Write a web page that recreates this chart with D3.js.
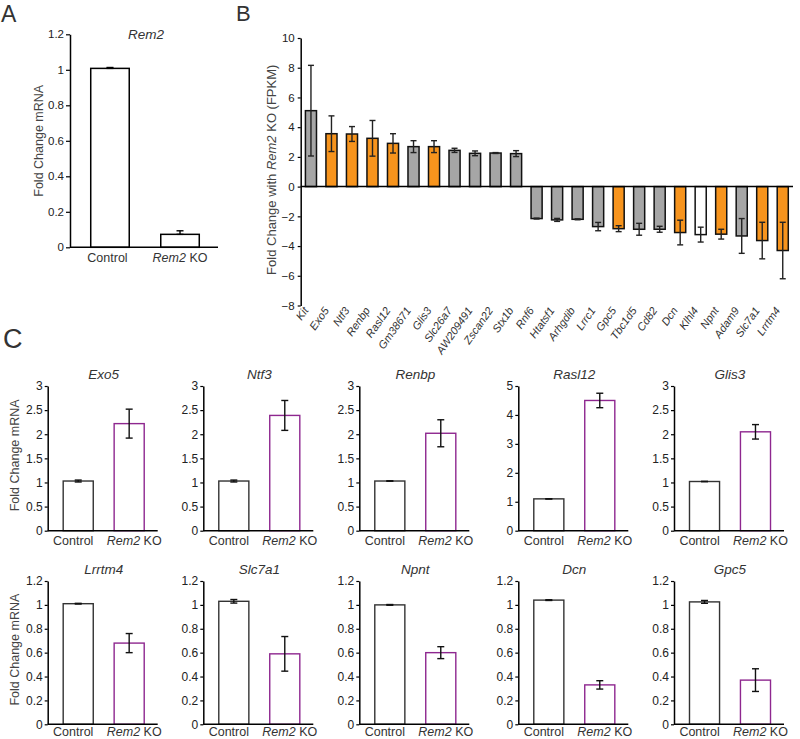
<!DOCTYPE html>
<html><head><meta charset="utf-8">
<script src="https://cdn.jsdelivr.net/npm/d3@7"></script>
<style>
body{margin:0;background:#fff;}
svg text{font-family:"Liberation Sans", Arial, sans-serif;}
</style></head><body>
<svg id="fig" width="800" height="739"></svg>
<script>
// ---------- DATA ----------
// Panel A
const groupsA = ["Control", "Rem2 KO"];
const valuesA = [1.008, 0.073];
const errorsA = [0.005, 0.02];
const ticksA = [0, 0.2, 0.4, 0.6, 0.8, 1, 1.2];

// Panel B
const genesB = ["Kit","Exo5","Ntf3","Renbp","Rasl12","Gm38671","Glis3","Slc26a7","AW209491","Zscan22","Stx1b",
  "Rnf6","Htatsf1","Arhgdib","Lrrc1","Gpc5","Tbc1d5","Cd82","Dcn","Klhl4","Npnt","Adam9","Slc7a1","Lrrtm4"];
const foldB = [5.11, 3.56, 3.54, 3.25, 2.91, 2.69, 2.69, 2.44, 2.24, 2.26, 2.22,
  -2.15, -2.24, -2.2, -2.69, -2.83, -2.87, -2.87, -3.09, -3.23, -3.2, -3.32, -3.63, -4.3];
const errB = [3.05, 1.2, 0.5, 1.2, 0.65, 0.4, 0.4, 0.14, 0.16, 0.03, 0.2,
  0.03, 0.1, 0.03, 0.28, 0.2, 0.4, 0.2, 0.83, 0.5, 0.33, 1.17, 1.23, 1.9];
const classB = ["gray","orange","orange","orange","orange","gray","orange","gray","gray","gray","gray",
  "gray","gray","gray","gray","orange","gray","gray","orange","white","orange","gray","orange","orange"];
const ticksB = [-8, -6, -4, -2, 0, 2, 4, 6, 8, 10];

// Panel C
const genesC = ["Exo5","Ntf3","Renbp","Rasl12","Glis3","Lrrtm4","Slc7a1","Npnt","Dcn","Gpc5"];
const controlC = [1.03, 1.03, 1.03, 1.1, 1.02, 1.01, 1.03, 1.0, 1.04, 1.025];
const controlErrC = [0.02, 0.02, 0.004, 0.005, 0.004, 0.003, 0.015, 0.003, 0.003, 0.012];
const koC = [2.22, 2.39, 2.02, 4.5, 2.05, 0.68, 0.59, 0.60, 0.33, 0.37];
const koErrC = [0.30, 0.31, 0.28, 0.25, 0.15, 0.08, 0.145, 0.05, 0.035, 0.095];
const ticksC3 = [0, 0.5, 1, 1.5, 2, 2.5, 3];
const ticksC5 = [0, 1, 2, 3, 4, 5];
const ticksC12 = [0, 0.2, 0.4, 0.6, 0.8, 1, 1.2];
const groupsC = ["Control", "Rem2 KO"];

// ---------- STYLE ----------
const colorMap = {gray: "#a6a6a6", orange: "#f7941d", white: "#ffffff"};
const tickColor = "#222";
const labelColor = "#444";
const svg = d3.select("#fig");

function styleAxis(g, fs) {
  g.selectAll(".domain").attr("stroke", "#000").attr("stroke-width", 1.5);
  g.selectAll(".tick line").attr("stroke", "#000").attr("stroke-width", 1.2);
  g.selectAll(".tick text").attr("fill", tickColor).style("font-size", fs + "px").attr("font-family", null);
}

function groupLabel(sel) {
  sel.each(function(d) {
    const t = d3.select(this);
    t.text(null);
    if (d === "Rem2 KO") {
      t.append("tspan").attr("font-style", "italic").text("Rem2");
      t.append("tspan").text(" KO");
    } else {
      t.text(d);
    }
  });
}

function errorBar(g, cx, yTop, yBot, cap, color) {
  g.append("line").attr("x1", cx).attr("x2", cx).attr("y1", yTop).attr("y2", yBot)
    .attr("stroke", color).attr("stroke-width", 1.4);
  [yTop, yBot].forEach(yy => g.append("line").attr("x1", cx - cap/2).attr("x2", cx + cap/2)
    .attr("y1", yy).attr("y2", yy).attr("stroke", color).attr("stroke-width", 1.4));
}

// panel letters
svg.append("text").attr("x", 1).attr("y", 22).text("A").style("font-size", "23px").attr("fill", "#333");
svg.append("text").attr("x", 236).attr("y", 21).text("B").style("font-size", "22px").attr("fill", "#333");
svg.append("text").attr("x", 3).attr("y", 348).text("C").style("font-size", "27px").attr("fill", "#333");

// ---------- PANEL A ----------
(function() {
  const ax = 70, yTop = 34.3, yBot = 247.3;
  const y = d3.scaleLinear().domain([0, 1.2]).range([yBot, yTop]);
  const x = d3.scaleBand().domain(groupsA).range([ax, ax + 150]).paddingInner(0.45).paddingOuter(0.296);
  const g = svg.append("g");
  groupsA.forEach((k, i) => {
    g.append("rect").attr("x", x(k)).attr("width", x.bandwidth())
      .attr("y", y(valuesA[i])).attr("height", y(0) - y(valuesA[i]))
      .attr("fill", "#fff").attr("stroke", "#000").attr("stroke-width", 1.5);
    errorBar(g, x(k) + x.bandwidth()/2, y(valuesA[i] + errorsA[i]), y(valuesA[i]), 7, "#000");
  });
  const ya = g.append("g").attr("transform", `translate(${ax},0)`)
    .call(d3.axisLeft(y).tickValues(ticksA).tickSize(4).tickPadding(2).tickSizeOuter(0).tickFormat(d => String(d)));
  styleAxis(ya, 11.5);
  const xa = g.append("g").attr("transform", `translate(0,${yBot})`)
    .call(d3.axisBottom(x).tickSize(0).tickPadding(6));
  xa.select(".domain").attr("d", `M${ax},0H${ax + 148}`);
  styleAxis(xa, 12.5);
  xa.selectAll(".tick text").call(groupLabel).attr("fill", "#333")
    .attr("dx", d => d === "Control" ? -2.5 : 0);
  g.append("text").attr("x", 146).attr("y", 39).attr("text-anchor", "middle")
    .attr("font-style", "italic").style("font-size", "13.5px").attr("fill", "#333").text("Rem2");
  g.append("text").attr("transform", `translate(43,${(yTop + yBot)/2}) rotate(-90)`)
    .attr("text-anchor", "middle").style("font-size", "12.5px").attr("fill", labelColor).text("Fold Change mRNA");
})();

// ---------- PANEL B ----------
(function() {
  const ax = 300.7, right = 793, yTop = 38, yBot = 305.5;
  const y = d3.scaleLinear().domain([-8, 10]).range([yBot, yTop]);
  const x = d3.scaleBand().domain(genesB).range([ax, right]).paddingInner(0.46).paddingOuter(0.23);
  const g = svg.append("g");
  genesB.forEach((k, i) => {
    const v = foldB[i];
    g.append("rect").attr("x", x(k)).attr("width", x.bandwidth())
      .attr("y", Math.min(y(v), y(0))).attr("height", Math.abs(y(v) - y(0)))
      .attr("fill", colorMap[classB[i]]).attr("stroke", "#111").attr("stroke-width", 1.5);
  });
  genesB.forEach((k, i) => {
    const v = foldB[i];
    errorBar(g, x(k) + x.bandwidth()/2, y(v + errB[i]), y(v - errB[i]), 6, "#222");
  });
  const ya = g.append("g").attr("transform", `translate(${ax},0)`)
    .call(d3.axisLeft(y).tickValues(ticksB).tickSize(3).tickPadding(3).tickSizeOuter(0));
  styleAxis(ya, 11.5);
  g.append("line").attr("x1", ax).attr("x2", right).attr("y1", y(0)).attr("y2", y(0))
    .attr("stroke", "#000").attr("stroke-width", 1.5);
  const xa = g.append("g").attr("transform", `translate(0,${yBot})`)
    .call(d3.axisBottom(x).tickSize(0).tickPadding(0));
  xa.select(".domain").remove();
  xa.selectAll(".tick text")
    .attr("y", 0).attr("dy", null)
    .attr("transform", "translate(-2,5) rotate(-55)")
    .attr("text-anchor", "end").attr("font-style", "italic")
    .style("font-size", "11px").attr("fill", "#333").attr("font-family", null);
  const lbl = g.append("text").attr("transform", `translate(276,${(yTop + yBot)/2 - 2}) rotate(-90)`)
    .attr("text-anchor", "middle").style("font-size", "13px").attr("fill", labelColor);
  lbl.append("tspan").text("Fold Change with ");
  lbl.append("tspan").attr("font-style", "italic").text("Rem2");
  lbl.append("tspan").text(" KO (FPKM)");
})();

// ---------- PANEL C ----------
(function() {
  const axisXs = [47.7, 203.3, 359.3, 518.3, 674];
  const rows = [{top: 386, bot: 530.7, pad: 5}, {top: 581, bot: 724.3, pad: 3}];
  genesC.forEach((gene, i) => {
    const r = rows[Math.floor(i / 5)];
    const ax = axisXs[i % 5];
    const ticks = i < 5 ? (gene === "Rasl12" ? ticksC5 : ticksC3) : ticksC12;
    const ymax = ticks[ticks.length - 1];
    const y = d3.scaleLinear().domain([0, ymax]).range([r.bot, r.top]);
    const x = d3.scaleBand().domain(groupsC).range([ax, ax + 112]).paddingInner(0.41).paddingOuter(0.304);
    const g = svg.append("g");
    const vals = [controlC[i], koC[i]];
    const errs = [controlErrC[i], koErrC[i]];
    const strokes = ["#333", "#8e278f"];
    groupsC.forEach((k, j) => {
      g.append("rect").attr("x", x(k)).attr("width", x.bandwidth())
        .attr("y", y(vals[j])).attr("height", y(0) - y(vals[j]))
        .attr("fill", "#fff").attr("stroke", strokes[j]).attr("stroke-width", 1.4);
      errorBar(g, x(k) + x.bandwidth()/2, y(vals[j] + errs[j]), y(vals[j] - errs[j]), 7, "#111");
    });
    const ya = g.append("g").attr("transform", `translate(${ax},0)`)
      .call(d3.axisLeft(y).tickValues(ticks).tickSize(3).tickPadding(2).tickSizeOuter(0).tickFormat(d => String(d)));
    styleAxis(ya, 12);
    const xa = g.append("g").attr("transform", `translate(0,${r.bot})`)
      .call(d3.axisBottom(x).tickSize(0).tickPadding(r.pad));
    xa.select(".domain").attr("d", `M${ax},0H${ax + 110}`);
    styleAxis(xa, 12.5);
    xa.selectAll(".tick text").call(groupLabel).attr("fill", "#333")
      .attr("dx", d => d === "Control" ? -5 : 5);
    g.append("text").attr("x", ax + 56).attr("y", r.top - 7).attr("text-anchor", "middle")
      .attr("font-style", "italic").style("font-size", "13.5px").attr("fill", "#333").text(gene);
    if (i % 5 === 0) {
      g.append("text").attr("transform", `translate(19,${(r.top + r.bot)/2 - 3}) rotate(-90)`)
        .attr("text-anchor", "middle").style("font-size", "12.5px").attr("fill", labelColor).text("Fold Change mRNA");
    }
  });
})();
</script>
</body></html>
